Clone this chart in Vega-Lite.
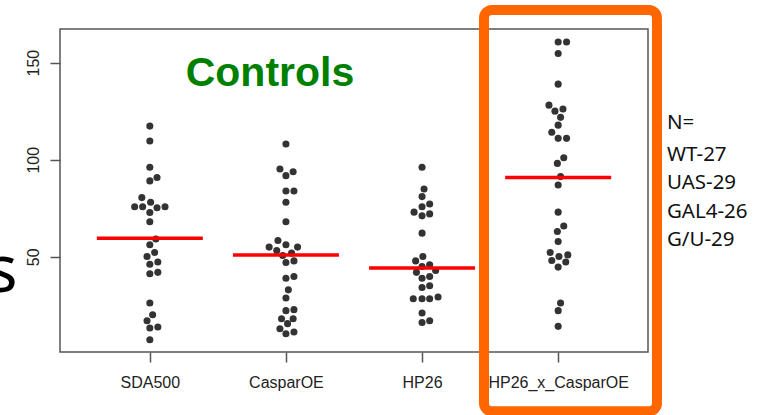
{
  "$schema": "https://vega.github.io/schema/vega-lite/v6.json",
  "width": 588,
  "height": 323,
  "autosize": {"type": "none"},
  "padding": {"left": 60, "top": 29, "right": 110, "bottom": 63},
  "background": "white",
  "config": {
    "view": {"stroke": "#555", "strokeWidth": 1.5},
    "axis": {"grid": false, "domain": false, "labelFont": "Liberation Sans", "labelFontSize": 16, "labelColor": "#222", "tickColor": "#555", "tickWidth": 1.5, "tickSize": 10}
  },
  "layer": [
    {
      "data": {"values": [
        {"g":"SDA500","v":117.3,"dx":0},{"g":"SDA500","v":109.6,"dx":0},{"g":"SDA500","v":96.1,"dx":0},{"g":"SDA500","v":89.1,"dx":0},{"g":"SDA500","v":90.8,"dx":0.9},
        {"g":"SDA500","v":80.5,"dx":-1},{"g":"SDA500","v":75.8,"dx":-1.9},{"g":"SDA500","v":75.8,"dx":-0.9},{"g":"SDA500","v":78.1,"dx":0.1},{"g":"SDA500","v":75.3,"dx":0.9},
        {"g":"SDA500","v":75.8,"dx":1.9},{"g":"SDA500","v":72.8,"dx":0},{"g":"SDA500","v":68.1,"dx":0},{"g":"SDA500","v":59.2,"dx":0.75},{"g":"SDA500","v":56.2,"dx":0},
        {"g":"SDA500","v":52.2,"dx":0.6},{"g":"SDA500","v":50.2,"dx":-0.35},{"g":"SDA500","v":46.2,"dx":0},{"g":"SDA500","v":47.3,"dx":1},{"g":"SDA500","v":41.3,"dx":0},
        {"g":"SDA500","v":42.0,"dx":1},{"g":"SDA500","v":26.2,"dx":0},{"g":"SDA500","v":20.2,"dx":0.35},{"g":"SDA500","v":17.1,"dx":-0.35},{"g":"SDA500","v":13.4,"dx":0},
        {"g":"SDA500","v":13.9,"dx":1},{"g":"SDA500","v":7.3,"dx":0},
        {"g":"CasparOE","v":108.1,"dx":0},{"g":"CasparOE","v":95.2,"dx":-0.75},{"g":"CasparOE","v":91.8,"dx":0},{"g":"CasparOE","v":93.8,"dx":0.9},{"g":"CasparOE","v":83.9,"dx":0},
        {"g":"CasparOE","v":83.9,"dx":1},{"g":"CasparOE","v":78.1,"dx":0},{"g":"CasparOE","v":68.1,"dx":0},{"g":"CasparOE","v":58.4,"dx":-1},{"g":"CasparOE","v":55.0,"dx":-2.1},
        {"g":"CasparOE","v":53.3,"dx":-1.15},{"g":"CasparOE","v":56.2,"dx":0},{"g":"CasparOE","v":55.0,"dx":1.45},{"g":"CasparOE","v":50.7,"dx":-0.4},{"g":"CasparOE","v":51.9,"dx":0.7},
        {"g":"CasparOE","v":47.1,"dx":0},{"g":"CasparOE","v":47.9,"dx":1},{"g":"CasparOE","v":39.0,"dx":0},{"g":"CasparOE","v":39.9,"dx":1},{"g":"CasparOE","v":33.0,"dx":0.3},
        {"g":"CasparOE","v":28.8,"dx":0},{"g":"CasparOE","v":22.3,"dx":0},{"g":"CasparOE","v":22.8,"dx":1},{"g":"CasparOE","v":18.1,"dx":-0.55},{"g":"CasparOE","v":18.1,"dx":0.9},
        {"g":"CasparOE","v":15.6,"dx":0.2},{"g":"CasparOE","v":13.0,"dx":-0.75},{"g":"CasparOE","v":10.4,"dx":0},{"g":"CasparOE","v":11.3,"dx":1},
        {"g":"HP26","v":96.1,"dx":0},{"g":"HP26","v":84.9,"dx":0.25},{"g":"HP26","v":81.0,"dx":0},{"g":"HP26","v":75.8,"dx":0},{"g":"HP26","v":77.2,"dx":0.95},
        {"g":"HP26","v":73.0,"dx":-1},{"g":"HP26","v":71.1,"dx":0},{"g":"HP26","v":72.1,"dx":0.95},{"g":"HP26","v":62.2,"dx":0},{"g":"HP26","v":50.2,"dx":0.1},
        {"g":"HP26","v":47.9,"dx":-0.8},{"g":"HP26","v":45.0,"dx":0},{"g":"HP26","v":45.9,"dx":0.95},{"g":"HP26","v":42.0,"dx":-0.7},{"g":"HP26","v":43.0,"dx":1.7},
        {"g":"HP26","v":39.0,"dx":0},{"g":"HP26","v":39.9,"dx":0.95},{"g":"HP26","v":34.2,"dx":0},{"g":"HP26","v":35.1,"dx":0.95},{"g":"HP26","v":28.4,"dx":-1.1},
        {"g":"HP26","v":28.4,"dx":0},{"g":"HP26","v":28.4,"dx":0.95},{"g":"HP26","v":29.3,"dx":2},{"g":"HP26","v":21.1,"dx":0},{"g":"HP26","v":16.2,"dx":0},
        {"g":"HP26","v":17.1,"dx":0.95},
        {"g":"HP26_x_CasparOE","v":160.6,"dx":0},{"g":"HP26_x_CasparOE","v":160.6,"dx":1.05},{"g":"HP26_x_CasparOE","v":154.7,"dx":0},{"g":"HP26_x_CasparOE","v":138.9,"dx":0},
        {"g":"HP26_x_CasparOE","v":128.1,"dx":-1.15},{"g":"HP26_x_CasparOE","v":125.0,"dx":-0.4},{"g":"HP26_x_CasparOE","v":126.1,"dx":0.6},{"g":"HP26_x_CasparOE","v":121.8,"dx":0.3},
        {"g":"HP26_x_CasparOE","v":117.8,"dx":0},{"g":"HP26_x_CasparOE","v":114.1,"dx":-0.8},{"g":"HP26_x_CasparOE","v":111.0,"dx":0},{"g":"HP26_x_CasparOE","v":111.0,"dx":1.05},
        {"g":"HP26_x_CasparOE","v":101.0,"dx":0.7},{"g":"HP26_x_CasparOE","v":98.1,"dx":-0.1},{"g":"HP26_x_CasparOE","v":91.3,"dx":0.3},{"g":"HP26_x_CasparOE","v":87.0,"dx":0},
        {"g":"HP26_x_CasparOE","v":73.0,"dx":0},{"g":"HP26_x_CasparOE","v":65.9,"dx":0.7},{"g":"HP26_x_CasparOE","v":63.0,"dx":-0.1},{"g":"HP26_x_CasparOE","v":57.9,"dx":0},
        {"g":"HP26_x_CasparOE","v":52.2,"dx":-1},{"g":"HP26_x_CasparOE","v":50.2,"dx":0.1},{"g":"HP26_x_CasparOE","v":51.0,"dx":1.2},{"g":"HP26_x_CasparOE","v":48.1,"dx":-0.8},
        {"g":"HP26_x_CasparOE","v":47.3,"dx":0.95},{"g":"HP26_x_CasparOE","v":44.7,"dx":0},{"g":"HP26_x_CasparOE","v":26.2,"dx":0.3},{"g":"HP26_x_CasparOE","v":22.3,"dx":0},
        {"g":"HP26_x_CasparOE","v":14.2,"dx":0}
      ]},
      "mark": {"type": "circle", "color": "#333333", "opacity": 1, "size": 50},
      "encoding": {
        "x": {"field": "g", "type": "nominal", "sort": ["SDA500","CasparOE","HP26","HP26_x_CasparOE"], "scale": {"type": "point", "padding": 0.66}, "axis": {"title": null, "labelAngle": 0, "labelPadding": 12}},
        "xOffset": {"field": "dx", "type": "quantitative", "scale": {"domain": [-2, 2], "range": [-16, 16]}},
        "y": {"field": "v", "type": "quantitative", "title": null, "scale": {"domain": [1, 167.3], "nice": false, "zero": false}, "axis": {"values": [50, 100, 150], "labelAngle": -90, "labelPadding": 9}}
      }
    },
    {
      "data": {"values": [
        {"g":"SDA500","v":59.6},{"g":"CasparOE","v":51.0},{"g":"HP26","v":44.2},{"g":"HP26_x_CasparOE","v":90.8}
      ]},
      "mark": {"type": "tick", "color": "#ff0000", "opacity": 1, "thickness": 3.5, "size": 106},
      "encoding": {
        "x": {"field": "g", "type": "nominal", "sort": ["SDA500","CasparOE","HP26","HP26_x_CasparOE"], "scale": {"type": "point", "padding": 0.66}, "axis": null},
        "y": {"field": "v", "type": "quantitative", "title": null, "scale": {"domain": [1, 167.3], "nice": false, "zero": false}}
      }
    },
    {
      "data": {"values": [{"x": 3.456, "x2": 4.728, "v": 177.1, "v2": -29.5}]},
      "mark": {"type": "rect", "fill": null, "fillOpacity": 0, "stroke": "#ff6600", "strokeWidth": 10, "cornerRadius": 8},
      "encoding": {
        "x": {"field": "x", "type": "quantitative", "scale": {"domain": [0.338, 4.662], "nice": false, "zero": false}, "axis": null},
        "x2": {"field": "x2"},
        "y": {"field": "v", "type": "quantitative", "title": null, "scale": {"domain": [1, 167.3], "nice": false, "zero": false}},
        "y2": {"field": "v2"}
      }
    },
    {
      "data": {"values": [{"x": 1.882, "v": 137.7, "label": "Controls"}]},
      "mark": {"type": "text", "font": "Liberation Sans", "fontWeight": "bold", "fontSize": 41, "color": "#008000", "align": "center", "baseline": "alphabetic"},
      "encoding": {
        "x": {"field": "x", "type": "quantitative", "scale": {"domain": [0.338, 4.662], "nice": false, "zero": false}, "axis": null},
        "y": {"field": "v", "type": "quantitative", "title": null, "scale": {"domain": [1, 167.3], "nice": false, "zero": false}},
        "text": {"field": "label"}
      }
    },
    {
      "data": {"values": [
        {"x": 4.801, "v": 119.0, "label": "N="},
        {"x": 4.801, "v": 102.5, "label": "WT-27"},
        {"x": 4.801, "v": 88.1, "label": "UAS-29"},
        {"x": 4.801, "v": 73.2, "label": "GAL4-26"},
        {"x": 4.801, "v": 58.7, "label": "G/U-29"}
      ]},
      "mark": {"type": "text", "font": "Noto Sans", "fontSize": 20.5, "color": "#111111", "align": "left", "baseline": "middle"},
      "encoding": {
        "x": {"field": "x", "type": "quantitative", "scale": {"domain": [0.338, 4.662], "nice": false, "zero": false}, "axis": null},
        "y": {"field": "v", "type": "quantitative", "title": null, "scale": {"domain": [1, 167.3], "nice": false, "zero": false}},
        "text": {"field": "label"}
      }
    },
    {
      "data": {"values": [{"x": 0.026, "v": 32.0, "label": "s"}]},
      "mark": {"type": "text", "font": "Noto Sans", "fontSize": 66, "color": "#000000", "align": "right", "baseline": "alphabetic"},
      "encoding": {
        "x": {"field": "x", "type": "quantitative", "scale": {"domain": [0.338, 4.662], "nice": false, "zero": false}, "axis": null},
        "y": {"field": "v", "type": "quantitative", "title": null, "scale": {"domain": [1, 167.3], "nice": false, "zero": false}},
        "text": {"field": "label"}
      }
    }
  ],
  "resolve": {"scale": {"x": "independent"}}
}
